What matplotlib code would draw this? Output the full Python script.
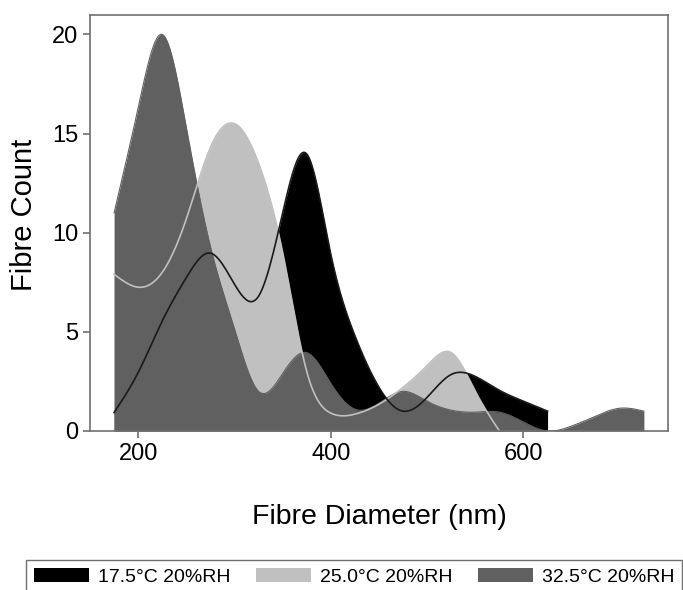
import numpy as np
import matplotlib.pyplot as plt

plt.rcParams['font.family'] = ['Liberation Sans', 'DejaVu Sans']

# Fibre diameter bins (nm) and counts
diam_175 = [175, 200, 225, 250, 275, 300, 325, 350, 375, 400, 425, 450,
            475, 500, 525, 550, 575, 600, 625]
count_175 = [0.93, 2.95, 5.55, 7.74, 8.97, 7.4, 6.8, 11.0, 13.97, 8.9, 4.8, 2.2,
             1.0, 1.7, 2.85, 2.75, 2.05, 1.5, 1.0]

diam_250 = [175, 200, 225, 250, 275, 300, 325, 350, 375, 400, 425, 450,
            475, 500, 525, 550, 575]
count_250 = [7.9, 7.25, 8.0, 10.7, 14.3, 15.5, 13.5, 9.0, 3.0, 0.9, 0.85, 1.35,
             2.2, 3.3, 3.95, 2.0, 0.0]

diam_325 = [175, 200, 225, 250, 275, 300, 325, 350, 375, 400, 425, 450,
            475, 500, 525, 550, 575, 600, 625, 650, 675, 700, 725]
count_325 = [11.0, 16.3, 20.0, 15.3, 9.3, 5.15, 2.0, 2.9, 3.95, 2.4, 1.1, 1.4,
             2.0, 1.5, 1.05, 0.95, 0.95, 0.45, 0.0, 0.25, 0.75, 1.15, 1.0]

labels = ['17.5°C 20%RH', '25.0°C 20%RH', '32.5°C 20%RH']
colours = ['#000000', '#c0c0c0', '#606060']


def spline(x, y, n=400):
    # natural cubic spline through the points, for the smooth curves
    x = np.asarray(x, float)
    y = np.asarray(y, float)
    k = len(x)
    h = np.diff(x)
    A = np.zeros((k, k))
    b = np.zeros(k)
    A[0, 0] = A[-1, -1] = 1
    for i in range(1, k - 1):
        A[i, i - 1] = h[i - 1]
        A[i, i] = 2 * (h[i - 1] + h[i])
        A[i, i + 1] = h[i]
        b[i] = 3 * ((y[i + 1] - y[i]) / h[i] - (y[i] - y[i - 1]) / h[i - 1])
    c = np.linalg.solve(A, b)
    xs = np.linspace(x[0], x[-1], n)
    idx = np.clip(np.searchsorted(x, xs) - 1, 0, k - 2)
    dx = xs - x[idx]
    bb = (y[idx + 1] - y[idx]) / h[idx] - h[idx] * (2 * c[idx] + c[idx + 1]) / 3
    dd = (c[idx + 1] - c[idx]) / (3 * h[idx])
    ys = y[idx] + bb * dx + c[idx] * dx ** 2 + dd * dx ** 3
    return xs, np.clip(ys, 0, None)


fig = plt.figure(figsize=(6.83, 5.9), dpi=100)
ax = fig.add_axes([0.1318, 0.2695, 0.8462, 0.7058])

curves = [spline(diam_175, count_175), spline(diam_250, count_250),
          spline(diam_325, count_325)]

handles = []
for (xs, ys), col, lab in zip(curves, colours, labels):
    h = ax.fill_between(xs, 0, ys, color=col, lw=0, label=lab)
    handles.append(h)
ax.plot(curves[2][0], curves[2][1], color=colours[2], lw=0.8)
ax.plot(curves[1][0], curves[1][1], color=colours[1], lw=1.2)
ax.plot(curves[0][0], curves[0][1], color='#1a1a1a', lw=1.2)

ax.set_xlim(150, 750)
ax.set_ylim(0, 21)
ax.set_xticks([200, 400, 600])
ax.set_yticks([0, 5, 10, 15, 20])
ax.tick_params(labelsize=17, length=5, width=1.2, color='#707070')
for s in ax.spines.values():
    s.set_color('#707070')
    s.set_linewidth(1.2)

ax.set_xlabel('Fibre Diameter (nm)', fontsize=20.5)
ax.xaxis.label.set_va('center')
ax.xaxis.set_label_coords(0.5, -0.2065)
ax.set_ylabel('Fibre Count', fontsize=21)
ax.yaxis.label.set_va('center')
ax.yaxis.set_label_coords(-0.115, 0.52)

leg = fig.legend(handles=handles, labels=labels, ncol=3, loc='upper left',
                 bbox_to_anchor=(26 / 683, 1 - 560 / 590), fontsize=14,
                 handlelength=2.85, handleheight=0.73, handletextpad=0.45,
                 columnspacing=1.3, borderaxespad=0, fancybox=False,
                 framealpha=1, edgecolor='#707070')
leg.get_frame().set_linewidth(1.0)

fig.savefig('out.png', dpi=100)
